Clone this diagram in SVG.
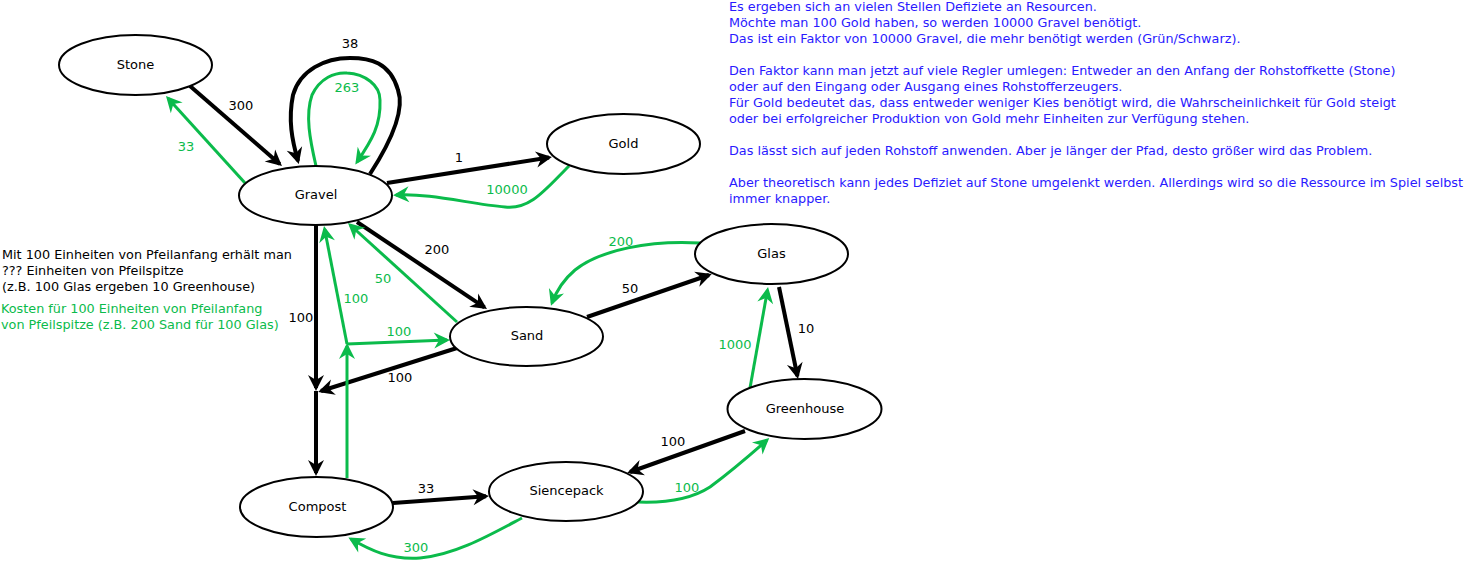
<svg xmlns="http://www.w3.org/2000/svg" width="1467" height="563" viewBox="0 0 1467 563">
<style>
text{font-family:"DejaVu Sans","Liberation Sans",sans-serif;font-size:12.8px;}
.n ellipse{fill:#fff;stroke:#000;stroke-width:2;}
.n text{text-anchor:middle;fill:#000;font-size:13px;}
.k{fill:none;stroke:#000;stroke-width:4;marker-end:url(#ak);}
.g{fill:none;stroke:#0bbb4b;stroke-width:3;marker-end:url(#ag);}
.lk{fill:#000;text-anchor:middle;font-size:13px;}
.lg{fill:#0bbb4b;text-anchor:middle;font-size:13px;}
.blue{fill:#2a1aff;}
</style>
<defs>
<marker id="ak" viewBox="-18 -10 24 20" refX="-3" refY="0" markerWidth="24" markerHeight="20" markerUnits="userSpaceOnUse" orient="auto">
<path d="M0,0 L-16,-8 L-11,0 L-16,8 Z" fill="#000"/>
</marker>
<marker id="ag" viewBox="-18 -10 24 20" refX="-3" refY="0" markerWidth="24" markerHeight="20" markerUnits="userSpaceOnUse" orient="auto">
<path d="M0,0 L-16,-8 L-11,0 L-16,8 Z" fill="#0bbb4b"/>
</marker>
</defs>
<g id="connectors">
<path class="k" d="M190,86 L279.7,164"/>
<path class="g" d="M245,183 L168,98.2"/>
<path class="k" d="M370,174 C392,140 405,110 398,90 C390,62 370,58 350,58 C325,58 300,70 293,95 C288,120 292,140 298,161"/>
<path class="g" d="M316,166 C310,140 305,115 312,95 C320,78 335,72 347,73 C365,74 380,85 380,100 C381,125 372,140 357,162"/>
<path class="k" d="M387,183 L549,157.5"/>
<path class="g" d="M569,166 C545,190 530,210 505,207 C470,204 430,193 396,195"/>
<path class="k" d="M357,222 L484.5,307.3"/>
<path class="g" d="M457,322 L350.2,225"/>
<path class="k" d="M316,225 L316,388"/>
<path class="k" d="M316,391 L316,473"/>
<path class="k" d="M457,348 L321,391"/>
<path class="g" d="M347,478 L347,346"/>
<path class="g" d="M347,344 L324.6,229"/>
<path class="g" d="M347,344 L447,340"/>
<path class="k" d="M393,503 L486,496.2"/>
<path class="g" d="M522,518 C490,535 455,555 420,558 C390,560 370,550 351,539"/>
<path class="k" d="M587,317 L709,275"/>
<path class="g" d="M700,243 C650,240 600,250 575,270 C562,281 556,292 552,303"/>
<path class="k" d="M779,287 L797.4,376"/>
<path class="g" d="M750,388 L767.5,290"/>
<path class="k" d="M745,431 L630,472"/>
<path class="g" d="M638,502 C665,503 690,500 710,487 C730,472 750,455 767,440"/>
<text class="lk" x="241" y="110">300</text>
<text class="lg" x="186" y="151">33</text>
<text class="lk" x="350" y="48">38</text>
<text class="lg" x="347" y="92">263</text>
<text class="lk" x="459" y="162">1</text>
<text class="lg" x="507" y="194">10000</text>
<text class="lk" x="437" y="254">200</text>
<text class="lg" x="383" y="283">50</text>
<text class="lg" x="356" y="303">100</text>
<text class="lk" x="301" y="322">100</text>
<text class="lg" x="399" y="336">100</text>
<text class="lk" x="400" y="382">100</text>
<text class="lk" x="426" y="493">33</text>
<text class="lg" x="416" y="552">300</text>
<text class="lg" x="621" y="246">200</text>
<text class="lk" x="630" y="293">50</text>
<text class="lk" x="806" y="333">10</text>
<text class="lg" x="735" y="349">1000</text>
<text class="lk" x="673" y="446">100</text>
<text class="lg" x="687" y="492">100</text>
</g>
<g id="stone" class="n"><ellipse cx="135.5" cy="65" rx="76.5" ry="30"/><text x="135.5" y="69">Stone</text></g>
<g id="gravel" class="n"><ellipse cx="315.5" cy="195.5" rx="76.5" ry="29.5"/><text x="316" y="199">Gravel</text></g>
<g id="gold" class="n"><ellipse cx="623.5" cy="144" rx="76.5" ry="30"/><text x="623.5" y="148">Gold</text></g>
<g id="glas" class="n"><ellipse cx="771.5" cy="254" rx="76.5" ry="30"/><text x="771.5" y="258">Glas</text></g>
<g id="sand" class="n"><ellipse cx="526.5" cy="336.5" rx="76.5" ry="29.5"/><text x="527" y="340">Sand</text></g>
<g id="greenhouse" class="n"><ellipse cx="804.5" cy="409" rx="77" ry="30"/><text x="805" y="413">Greenhouse</text></g>
<g id="siencepack" class="n"><ellipse cx="566" cy="491.5" rx="77" ry="29.5"/><text x="566.5" y="495">Siencepack</text></g>
<g id="compost" class="n"><ellipse cx="316.5" cy="507" rx="76.5" ry="30"/><text x="317.5" y="511">Compost</text></g>
<g id="legend">
<text x="2" y="259">Mit 100 Einheiten von Pfeilanfang erhält man</text>
<text x="2" y="275">??? Einheiten von Pfeilspitze</text>
<text x="2" y="291">(z.B. 100 Glas ergeben 10 Greenhouse)</text>
<text x="1" y="313" fill="#0bbb4b">Kosten für 100 Einheiten von Pfeilanfang</text>
<text x="1" y="329" fill="#0bbb4b">von Pfeilspitze (z.B. 200 Sand für 100 Glas)</text>
</g>
<g id="notes" class="blue">
<text x="729" y="11">Es ergeben sich an vielen Stellen Defiziete an Resourcen.</text>
<text x="729" y="27">Möchte man 100 Gold haben, so werden 10000 Gravel benötigt.</text>
<text x="729" y="43">Das ist ein Faktor von 10000 Gravel, die mehr benötigt werden (Grün/Schwarz).</text>
<text x="729" y="75">Den Faktor kann man jetzt auf viele Regler umlegen: Entweder an den Anfang der Rohstoffkette (Stone)</text>
<text x="729" y="91">oder auf den Eingang oder Ausgang eines Rohstofferzeugers.</text>
<text x="729" y="107">Für Gold bedeutet das, dass entweder weniger Kies benötigt wird, die Wahrscheinlichkeit für Gold steigt</text>
<text x="729" y="123">oder bei erfolgreicher Produktion von Gold mehr Einheiten zur Verfügung stehen.</text>
<text x="729" y="155">Das lässt sich auf jeden Rohstoff anwenden. Aber je länger der Pfad, desto größer wird das Problem.</text>
<text x="729" y="187">Aber theoretisch kann jedes Defiziet auf Stone umgelenkt werden. Allerdings wird so die Ressource im Spiel selbst</text>
<text x="729" y="203">immer knapper.</text>
</g>
</svg>
